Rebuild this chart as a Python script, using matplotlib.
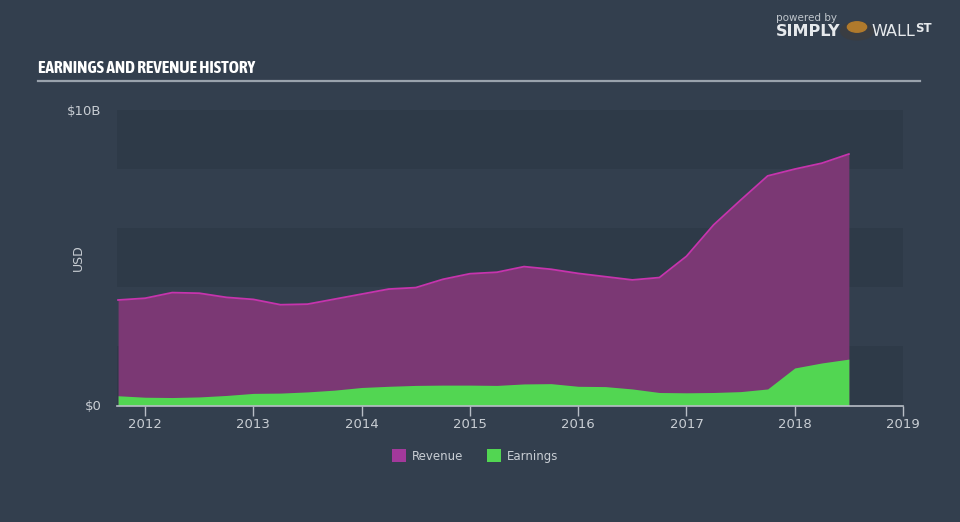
import matplotlib
matplotlib.use("Agg")
import matplotlib.pyplot as plt
from matplotlib import font_manager
from matplotlib.patches import Rectangle, Patch

# ---- data (USD billions), quarterly, decimal years ----
quarters = [2011.75, 2012.0, 2012.25, 2012.5, 2012.75, 2013.0, 2013.25, 2013.5, 2013.75,
            2014.0, 2014.25, 2014.5, 2014.75, 2015.0, 2015.25, 2015.5, 2015.75,
            2016.0, 2016.25, 2016.5, 2016.75, 2017.0, 2017.25, 2017.5, 2017.75,
            2018.0, 2018.25, 2018.5]
revenue = [3.57, 3.63, 3.82, 3.80, 3.66, 3.59, 3.41, 3.43, 3.60,
           3.77, 3.94, 3.99, 4.27, 4.46, 4.51, 4.70, 4.61,
           4.47, 4.36, 4.25, 4.33, 5.05, 6.11, 6.95, 7.77,
           8.00, 8.20, 8.51]
earnings = [0.33, 0.28, 0.27, 0.29, 0.34, 0.41, 0.42, 0.46, 0.52,
            0.61, 0.65, 0.68, 0.69, 0.69, 0.68, 0.73, 0.74,
            0.65, 0.64, 0.56, 0.44, 0.43, 0.44, 0.47, 0.56,
            1.27, 1.44, 1.57]
year_ticks = [2012, 2013, 2014, 2015, 2016, 2017, 2018, 2019]
y_labels = {0: "$0", 10: "$10B"}

BG = "#333f4e"
BAND = "#2e3a48"
REV_FILL = "#7b3874"
REV_LINE = "#c634ad"
EARN = "#52d652"
TXT = "#c9ced4"

# pick a condensed face for the title if one is installed
title_family = None
title_stretch = "normal"
for f in font_manager.fontManager.ttflist:
    n = f.name.lower()
    if ("narrow" in n or "condensed" in n) and "bold" in (f.style + str(f.weight) + f.fname.lower()):
        title_family = f.name
        break
if title_family is None:
    for f in font_manager.fontManager.ttflist:
        n = f.name.lower()
        if "narrow" in n or "condensed" in n:
            title_family = f.name
            break
if title_family is None:
    for f in font_manager.fontManager.ttflist:
        if f.stretch not in ("normal", 500) and f.name in ("DejaVu Sans", "Roboto", "Open Sans", "Noto Sans", "Liberation Sans"):
            title_family = f.name
            title_stretch = "condensed"
            break
title_size = 12.5 if title_family else 9.5
if title_family is None:
    title_family = "DejaVu Sans"

fig = plt.figure(figsize=(9.6, 5.22), dpi=100, facecolor=BG)
W, H = 960, 522
x0, x1 = 117, 903
ytop, ybot = 110, 405.5
ax = fig.add_axes([x0 / W, (H - ybot) / H, (x1 - x0) / W, (ybot - ytop) / H])
ax.set_facecolor(BG)
ax.set_xlim(2011.74, 2019.0)
ax.set_ylim(0, 10)

# horizontal bands
for b in [0, 4, 8]:
    ax.add_patch(Rectangle((2011.74, b), 2019.0 - 2011.74, 2, facecolor=BAND,
                           edgecolor="none", zorder=0))

ax.fill_between(quarters, 0, revenue, color=REV_FILL, lw=0, zorder=2)
ax.plot(quarters, revenue, color=REV_LINE, lw=1.3, zorder=3)
ax.fill_between(quarters, 0, earnings, color=EARN, lw=0, zorder=4)

for s in ["top", "right", "left"]:
    ax.spines[s].set_visible(False)
ax.spines["bottom"].set_color("#b8bec6")
ax.spines["bottom"].set_linewidth(1.2)
ax.spines["bottom"].set_zorder(6)
ax.set_xticks(year_ticks)
ax.set_xticklabels([str(y) for y in year_ticks])
ax.tick_params(axis="x", colors="#b8bec6", length=7, width=1, labelcolor=TXT,
               labelsize=9.5, pad=2)
ax.set_yticks(list(y_labels.keys()))
ax.set_yticklabels(list(y_labels.values()))
ax.tick_params(axis="y", length=0, labelcolor=TXT, labelsize=9.5, pad=11)
fig.text(78 / W, 1 - 258 / H, "USD", color=TXT, fontsize=9, rotation=90,
         ha="center", va="center")

# title and underline
fig.text(38 / W, 1 - 68 / H, "EARNINGS AND REVENUE HISTORY", color="white",
         fontsize=title_size, fontweight="bold", family=[title_family, "DejaVu Sans"],
         fontstretch=title_stretch, va="center", ha="left")
fig.add_artist(plt.Line2D([38 / W, 920 / W], [1 - 81 / H, 1 - 81 / H],
                          color="#9aa3ad", lw=1.6))

# branding
fig.text(776 / W, 1 - 18 / H, "powered by", color="#c0c6cc", fontsize=7.5,
         va="center", ha="left")
fig.text(776 / W, 1 - 32 / H, "SIMPLY", color="#e6e9ec", fontsize=11.5,
         fontweight="bold", va="center", ha="left")
fig.add_artist(plt.Circle((857 / W, 1 - 31 / H), 0.017, transform=fig.transFigure,
                          color="#3a3d42", zorder=5))
fig.add_artist(plt.Circle((857 / W, 1 - 27 / H), 0.010, transform=fig.transFigure,
                          color="#b07a2c", zorder=6))
fig.text(871 / W, 1 - 32 / H, "WALL", color="#e6e9ec", fontsize=11.5,
         va="center", ha="left")
fig.text(915 / W, 1 - 28 / H, "ST", color="#e6e9ec", fontsize=8.5,
         fontweight="bold", va="center", ha="left")

# legend
handles = [Patch(facecolor="#a3399b", edgecolor="none", label="Revenue"),
           Patch(facecolor=EARN, edgecolor="none", label="Earnings")]
fig.legend(handles=handles, loc="center", bbox_to_anchor=(475 / W, 1 - 456 / H),
           ncol=2, frameon=False, fontsize=8.5, labelcolor=TXT,
           handlelength=1.2, handleheight=1.2, columnspacing=2.0, handletextpad=0.5)

fig.savefig("out.png", dpi=100, facecolor=BG)
